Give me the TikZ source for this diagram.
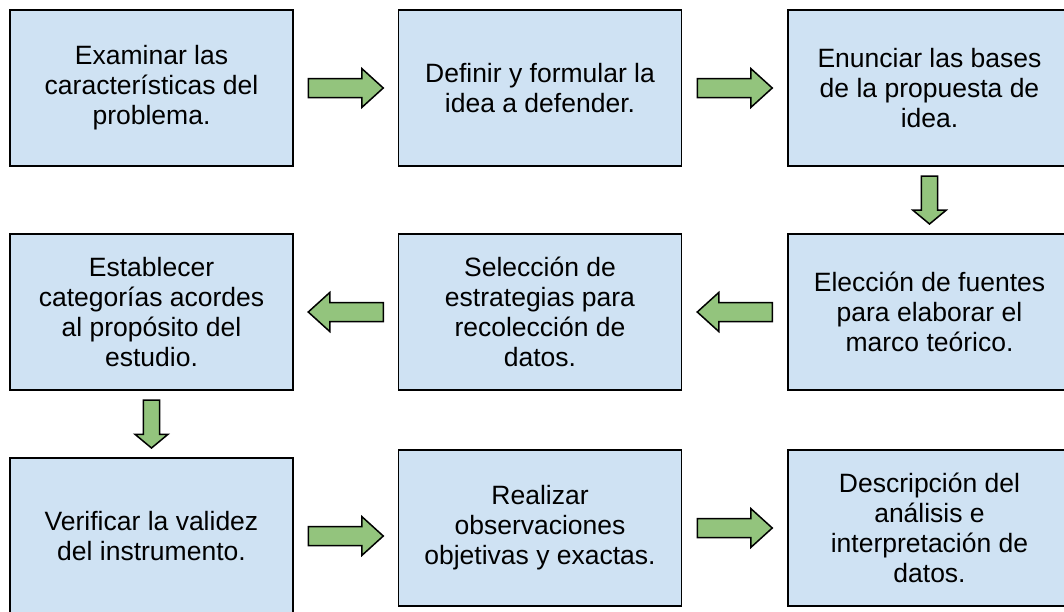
\documentclass[tikz,border=0pt]{standalone}
\usepackage{fontspec}
\setmainfont{Liberation Sans}
\usetikzlibrary{calc}
\definecolor{cajaazul}{RGB}{207,226,243}
\definecolor{verdeflecha}{RGB}{147,196,125}
\tikzset{
    caja/.style={draw=black,line width=1.8pt,fill=cajaazul,minimum width=283pt,minimum height=156pt,
        inner sep=0pt,align=center,font=\fontsize{26.5}{30}\selectfont},
    flechabloque/.style={draw=black,line width=1.5pt,fill=verdeflecha,line join=miter}
}
% flecha gruesa: #1 centro, #2 angulo, #3 escala en largo, #4 escala en ancho
\newcommand{\flecha}[4]{%
    \begin{scope}[shift={#1},rotate=#2,xscale=#3,yscale=#4]
        \draw[flechabloque] (-37.5,-9.5) -- (16,-9.5) -- (16,-19.5) -- (37.5,0)
            -- (16,19.5) -- (16,9.5) -- (-37.5,9.5) -- cycle;
    \end{scope}}
\begin{document}
\begin{tikzpicture}[x=1pt,y=1pt]
        \useasboundingbox (0,0) rectangle (1064,-611);
        \node[caja] (examinar) at (151.5,-88) {Examinar las\\características del\\problema.};
        \node[caja] (definir) at (540,-88) {Definir y formular la\\idea a defender.};
        \node[caja] (enunciar) at (929.5,-88) {Enunciar las bases\\de la propuesta de\\idea.};
        \node[caja] (establecer) at (151.5,-312) {Establecer\\categorías acordes\\al propósito del\\estudio.};
        \node[caja] (seleccion) at (540,-312) {Selección de\\estrategias para\\recolección de\\datos.};
        \node[caja] (eleccion) at (929.5,-312) {Elección de fuentes\\para elaborar el\\marco teórico.};
        \node[caja] (verificar) at (151.5,-536) {Verificar la validez\\del instrumento.};
        \node[caja] (realizar) at (540,-528) {Realizar\\observaciones\\objetivas y exactas.};
        \node[caja] (descripcion) at (929.5,-528) {Descripción del\\análisis e\\interpretación de\\datos.};
        \flecha{($(examinar.east)!0.5!(definir.west |- examinar.east)$)}{0}{1}{1}
        \flecha{($(definir.east)!0.5!(enunciar.west |- definir.east)$)}{0}{1}{1}
        \flecha{($(enunciar.south)!0.5!(eleccion.north -| enunciar.south)$)}{-90}{0.64}{0.85}
        \flecha{($(eleccion.west)!0.5!(seleccion.east |- eleccion.west)$)}{180}{1}{1}
        \flecha{($(seleccion.west)!0.5!(establecer.east |- seleccion.west)$)}{180}{1}{1}
        \flecha{($(establecer.south)!0.5!(verificar.north -| establecer.south)$)}{-90}{0.64}{0.85}
        \flecha{($(verificar.east)!0.5!(realizar.west |- verificar.east)$)}{0}{1}{1}
        \flecha{($(realizar.east)!0.5!(descripcion.west |- realizar.east)$)}{0}{1}{1}
    \end{tikzpicture}
\end{document}
